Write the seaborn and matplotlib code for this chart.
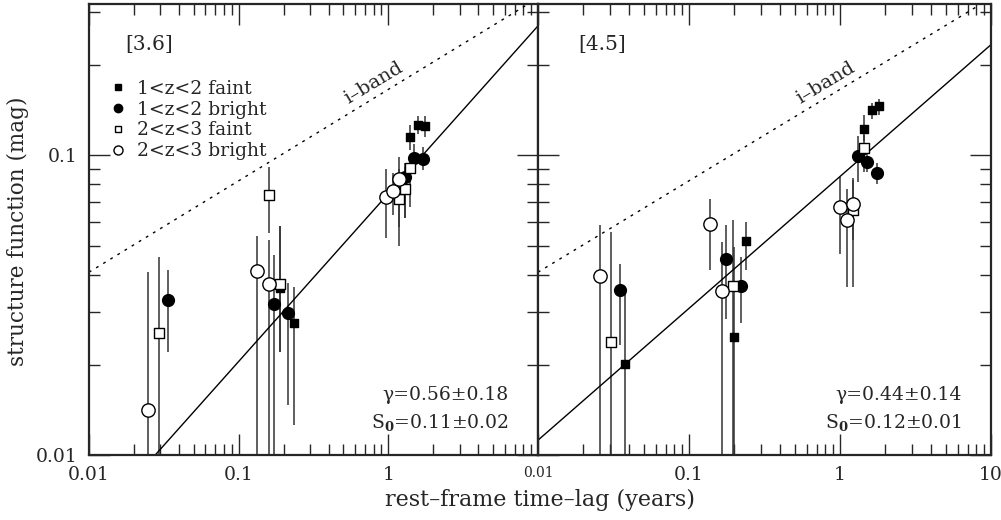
import numpy as np
import pandas as pd
import matplotlib
matplotlib.use('Agg')
import matplotlib.pyplot as plt
import seaborn as sns
from matplotlib.ticker import NullFormatter, LogLocator
from matplotlib.lines import Line2D

# ---- [3.6] panel ----
ch1_faint12_lag = [0.19, 0.233, 1.39, 1.58, 1.77]
ch1_faint12_sf = [0.0362, 0.0275, 0.115, 0.126, 0.125]
ch1_faint12_lo = [0.022, 0.0126, 0.104, 0.118, 0.115]
ch1_faint12_hi = [0.058, 0.0364, 0.126, 0.135, 0.135]

ch1_bright12_lag = [0.0337, 0.172, 0.213, 1.30, 1.48, 1.71]
ch1_bright12_sf = [0.033, 0.032, 0.0298, 0.085, 0.098, 0.0975]
ch1_bright12_lo = [0.022, 0.005, 0.0147, 0.062, 0.0905, 0.0891]
ch1_bright12_hi = [0.0414, 0.0464, 0.0374, 0.0915, 0.109, 0.107]

ch1_faint23_lag = [0.0295, 0.159, 0.19, 1.18, 1.30, 1.39]
ch1_faint23_sf = [0.0255, 0.0736, 0.0373, 0.0713, 0.0775, 0.091]
ch1_faint23_lo = [0.005, 0.055, 0.022, 0.050, 0.062, 0.067]
ch1_faint23_hi = [0.0457, 0.0915, 0.058, 0.090, 0.094, 0.098]

ch1_bright23_lag = [0.0248, 0.133, 0.159, 0.97, 1.08, 1.18]
ch1_bright23_sf = [0.0141, 0.0411, 0.0371, 0.0726, 0.076, 0.0832]
ch1_bright23_lo = [0.005, 0.005, 0.005, 0.0528, 0.063, 0.0576]
ch1_bright23_hi = [0.0407, 0.054, 0.052, 0.0903, 0.087, 0.0985]

# ---- [4.5] panel ----
ch2_faint12_lag = [0.0377, 0.198, 0.24, 1.45, 1.62, 1.82]
ch2_faint12_sf = [0.0201, 0.0248, 0.0517, 0.122, 0.142, 0.146]
ch2_faint12_lo = [0.005, 0.005, 0.0414, 0.112, 0.132, 0.136]
ch2_faint12_hi = [0.0355, 0.0495, 0.060, 0.136, 0.149, 0.154]

ch2_bright12_lag = [0.0349, 0.177, 0.22, 1.32, 1.50, 1.75]
ch2_bright12_sf = [0.0355, 0.045, 0.0367, 0.0995, 0.095, 0.0873]
ch2_bright12_lo = [0.0232, 0.0285, 0.0275, 0.0815, 0.088, 0.0804]
ch2_bright12_hi = [0.0435, 0.0585, 0.0458, 0.116, 0.104, 0.094]

ch2_faint23_lag = [0.0304, 0.195, 1.21, 1.45]
ch2_faint23_sf = [0.0238, 0.0366, 0.0656, 0.106]
ch2_faint23_lo = [0.005, 0.005, 0.052, 0.088]
ch2_faint23_hi = [0.0555, 0.0607, 0.0825, 0.117]

ch2_bright23_lag = [0.0257, 0.137, 0.165, 1.00, 1.11, 1.22]
ch2_bright23_sf = [0.0395, 0.0588, 0.0353, 0.0673, 0.0607, 0.069]
ch2_bright23_lo = [0.005, 0.0414, 0.005, 0.047, 0.0364, 0.0363]
ch2_bright23_hi = [0.0585, 0.0717, 0.0514, 0.0847, 0.0774, 0.0838]

# power-law fits (SF at 1 yr as drawn, slope) and the i-band reference
panel_names = ['[3.6]', '[4.5]']
fit_gamma = [0.56, 0.44]
fit_amp = [0.0745, 0.085]
fit_text = [('\u03b3=0.56\u00b10.18', 'S$_\\mathbf{0}$=0.11\u00b10.02'),
            ('\u03b3=0.44\u00b10.14', 'S$_\\mathbf{0}$=0.12\u00b10.01')]
iband_gamma = 0.305
iband_amp = 0.166

group_labels = ['1<z<2 faint', '1<z<2 bright', '2<z<3 faint', '2<z<3 bright']

rows = []
data = {
    0: [(ch1_faint12_lag, ch1_faint12_sf, ch1_faint12_lo, ch1_faint12_hi),
        (ch1_bright12_lag, ch1_bright12_sf, ch1_bright12_lo, ch1_bright12_hi),
        (ch1_faint23_lag, ch1_faint23_sf, ch1_faint23_lo, ch1_faint23_hi),
        (ch1_bright23_lag, ch1_bright23_sf, ch1_bright23_lo, ch1_bright23_hi)],
    1: [(ch2_faint12_lag, ch2_faint12_sf, ch2_faint12_lo, ch2_faint12_hi),
        (ch2_bright12_lag, ch2_bright12_sf, ch2_bright12_lo, ch2_bright12_hi),
        (ch2_faint23_lag, ch2_faint23_sf, ch2_faint23_lo, ch2_faint23_hi),
        (ch2_bright23_lag, ch2_bright23_sf, ch2_bright23_lo, ch2_bright23_hi)],
}
for p, groups in data.items():
    for g, (lag, sf, lo, hi) in enumerate(groups):
        for a, b, c, d in zip(lag, sf, lo, hi):
            rows.append(dict(panel=p, group=group_labels[g], lag=a, sf=b, lo=c, hi=d))
df = pd.DataFrame(rows)

styles = {
    '1<z<2 faint': dict(marker='s', s=28, color='black', edgecolor='black'),
    '1<z<2 bright': dict(marker='o', s=72, color='black', edgecolor='black'),
    '2<z<3 faint': dict(marker='s', s=42, color='white', edgecolor='black'),
    '2<z<3 bright': dict(marker='o', s=92, color='white', edgecolor='black'),
}

sns.set_style('ticks')
plt.rcParams['font.family'] = ['DejaVu Serif']
plt.rcParams['mathtext.fontset'] = 'dejavuserif'

fig = plt.figure(figsize=(10.01, 5.2), dpi=100)
axes = [fig.add_axes([89/1001, 65/520, 449/1001, 451/520]),
        fig.add_axes([538/1001, 65/520, 453/1001, 451/520])]

t = np.logspace(-2, 1, 200)
for p, ax in enumerate(axes):
    ax.set_xscale('log')
    ax.set_yscale('log')
    sub = df[df.panel == p]
    ax.vlines(sub.lag, sub.lo, sub.hi, color='0.2', lw=1.1, zorder=2)
    for g in group_labels:
        gd = sub[sub.group == g]
        sns.scatterplot(x=gd.lag, y=gd.sf, ax=ax, linewidth=1.0, zorder=3,
                        legend=False, **styles[g])
    sns.lineplot(x=t, y=fit_amp[p] * t ** fit_gamma[p], ax=ax, color='black', lw=1.0)
    sns.lineplot(x=t, y=iband_amp * t ** iband_gamma, ax=ax, color='black', lw=1.0,
                 linestyle=(0, (2, 4)))
    ax.set_xlim(0.01, 10)
    ax.set_ylim(0.01, 0.32)
    ax.set_xlabel('')
    ax.set_ylabel('')
    ax.text(0.08 if p == 0 else 0.088, 0.91, panel_names[p], transform=ax.transAxes,
            fontsize=14.5, ha='left', va='center')
    ax.text(0.80, 0.175, 'i\u2013band', fontsize=14, rotation=31, ha='center',
            va='center', rotation_mode='anchor')
    ax.text(0.935, 0.133, fit_text[p][0], transform=ax.transAxes, fontsize=13.5,
            ha='right', va='center')
    ax.text(0.935, 0.071, fit_text[p][1], transform=ax.transAxes, fontsize=13.5,
            ha='right', va='center')

    ax.set_xticks([0.01, 0.1, 1, 10])
    ax.set_xticklabels(['0.01', '0.1', '1', '10'] if p == 1 else ['0.01', '0.1', '1', ''])
    ax.set_yticks([0.01, 0.1])
    ax.set_yticklabels(['0.01', '0.1'])
    ax.xaxis.set_minor_locator(LogLocator(base=10, subs=np.arange(2, 10)))
    ax.yaxis.set_minor_locator(LogLocator(base=10, subs=np.arange(2, 10)))
    ax.xaxis.set_minor_formatter(NullFormatter())
    ax.yaxis.set_minor_formatter(NullFormatter())
    ax.tick_params(which='both', direction='in', top=True, right=True,
                   labelsize=13.5, width=1.0, pad=8)
    ax.tick_params(which='major', length=15)
    ax.tick_params(which='minor', length=8)
    for s in ax.spines.values():
        s.set_linewidth(1.6)
    if p == 1:
        ax.tick_params(labelleft=False)
        ax.get_xticklabels()[0].set_fontsize(10)

handles = [Line2D([], [], ls='none', marker='s', ms=4.5, mfc='black', mec='black'),
           Line2D([], [], ls='none', marker='o', ms=6, mfc='black', mec='black'),
           Line2D([], [], ls='none', marker='s', ms=5, mfc='white', mec='black'),
           Line2D([], [], ls='none', marker='o', ms=6.5, mfc='white', mec='black')]
axes[0].legend(handles, group_labels, loc='upper left', bbox_to_anchor=(0.048, 0.832),
               frameon=False, fontsize=13.5, handlelength=0.8, handletextpad=0.6,
               labelspacing=0.15, borderaxespad=0, borderpad=0)

fig.text(540/1001, 1 - 500/520, 'rest\u2013frame time\u2013lag (years)', fontsize=16,
         ha='center', va='center')
fig.text(18/1001, 1 - 231/520, 'structure function (mag)', fontsize=15.5,
         ha='center', va='center', rotation=90)

fig.savefig('out.png', dpi=100)
